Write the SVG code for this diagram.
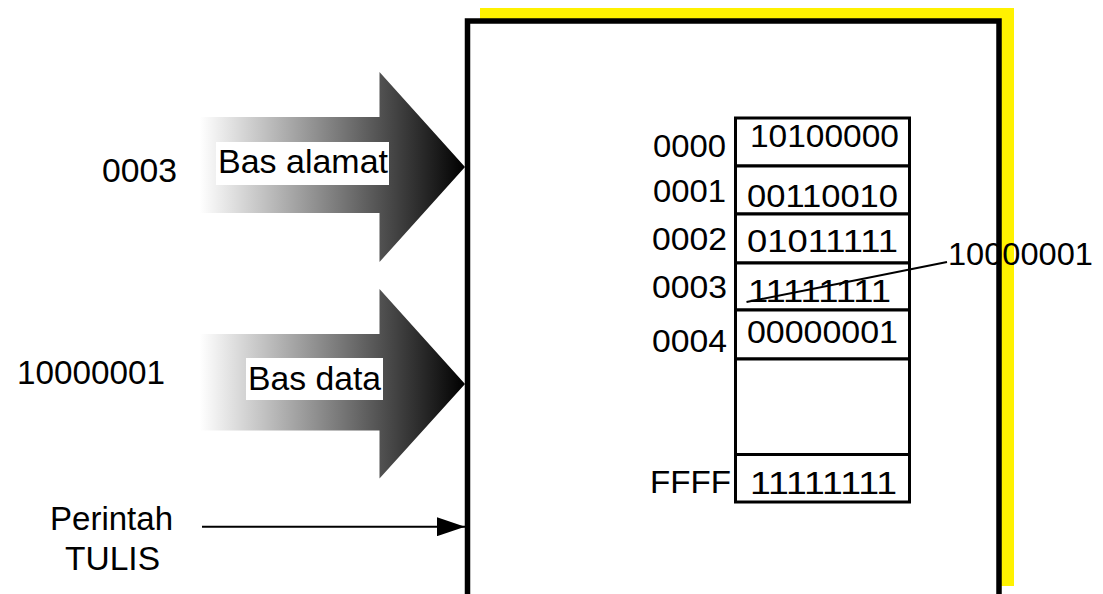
<svg xmlns="http://www.w3.org/2000/svg" width="1103" height="594" viewBox="0 0 1103 594">
<style>
  .t { font-family: "Liberation Sans", Arial, sans-serif; fill: #000; }
  .big { font-size: 34px; }
  .mem { font-size: 31px; }
  .cell { fill: #fff; stroke: #000; stroke-width: 3; }
  .conn { stroke: #000; stroke-width: 2; fill: none; }
</style>
<defs>
  <linearGradient id="shade" gradientUnits="userSpaceOnUse" x1="200" y1="0" x2="465" y2="0">
    <stop offset="0" stop-color="#ffffff"/>
    <stop offset="1" stop-color="#000000"/>
  </linearGradient>
  <marker id="ah" markerWidth="28" markerHeight="19" refX="28" refY="9.5" orient="auto" markerUnits="userSpaceOnUse" viewBox="0 0 28 19">
    <path d="M0,0 L28,9.5 L0,19 Z" fill="#000"/>
  </marker>
</defs>
<rect width="1103" height="594" fill="#fff"/>

<g id="memory-chip">
  <rect x="480" y="8" width="534" height="578" fill="#fff200"/>
  <rect x="467.5" y="21" width="531.5" height="600" fill="#fff" stroke="#000" stroke-width="5.5"/>
</g>

<g id="arrow-address">
  <path d="M200,117 L379.5,117 L379.5,72 L465,167 L379.5,262 L379.5,213 L200,213 Z" fill="url(#shade)"/>
  <rect x="216" y="142" width="173" height="43" fill="#fff"/>
  <text class="t big" x="218" y="173" textLength="170" lengthAdjust="spacingAndGlyphs">Bas alamat</text>
</g>

<g id="arrow-data">
  <path d="M200,334 L379.5,334 L379.5,289 L465,384 L379.5,478.5 L379.5,430.5 L200,430.5 Z" fill="url(#shade)"/>
  <rect x="246" y="358" width="137" height="42" fill="#fff"/>
  <text class="t big" x="248" y="390" textLength="133" lengthAdjust="spacingAndGlyphs">Bas data</text>
</g>

<g id="label-address">
  <text class="t big" x="102" y="181.7" textLength="75" lengthAdjust="spacingAndGlyphs">0003</text>
</g>
<g id="label-data">
  <text class="t big" x="17" y="384.3" textLength="148" lengthAdjust="spacingAndGlyphs">10000001</text>
</g>
<g id="label-write">
  <text class="t big" x="50" y="530" textLength="123" lengthAdjust="spacingAndGlyphs">Perintah</text>
  <text class="t big" x="65" y="570" textLength="95" lengthAdjust="spacingAndGlyphs">TULIS</text>
</g>

<g id="memory-table">
  <rect class="cell" x="735.5" y="118" width="174" height="48"/>
  <rect class="cell" x="735.5" y="166" width="174" height="48"/>
  <rect class="cell" x="735.5" y="214" width="174" height="49"/>
  <rect class="cell" x="735.5" y="263" width="174" height="47"/>
  <rect class="cell" x="735.5" y="310" width="174" height="49"/>
  <rect class="cell" x="735.5" y="359" width="174" height="95.5"/>
  <rect class="cell" x="735.5" y="454.5" width="174" height="47.5"/>

  <text class="t mem" x="653" y="157" textLength="73" lengthAdjust="spacingAndGlyphs">0000</text>
  <text class="t mem" x="750" y="147" textLength="149" lengthAdjust="spacingAndGlyphs">10100000</text>
  <text class="t mem" x="653" y="201.7" textLength="73" lengthAdjust="spacingAndGlyphs">0001</text>
  <text class="t mem" x="747" y="206.7" textLength="151" lengthAdjust="spacingAndGlyphs">00110010</text>
  <text class="t mem" x="652" y="250" textLength="75" lengthAdjust="spacingAndGlyphs">0002</text>
  <text class="t mem" x="747" y="251.7" textLength="151" lengthAdjust="spacingAndGlyphs">01011111</text>
  <text class="t mem" x="652" y="298.3" textLength="75" lengthAdjust="spacingAndGlyphs">0003</text>
  <text class="t mem" x="748" y="301.7" textLength="143" lengthAdjust="spacingAndGlyphs">11111111</text>
  <text class="t mem" x="652" y="351.7" textLength="75" lengthAdjust="spacingAndGlyphs">0004</text>
  <text class="t mem" x="747" y="343.3" textLength="151" lengthAdjust="spacingAndGlyphs">00000001</text>
  <text class="t mem" x="650" y="493.3" textLength="81" lengthAdjust="spacingAndGlyphs">FFFF</text>
  <text class="t mem" x="750" y="494" textLength="147" lengthAdjust="spacingAndGlyphs">11111111</text>
</g>

<g id="new-value">
  <text class="t mem" x="948" y="265" textLength="145" lengthAdjust="spacingAndGlyphs">10000001</text>
</g>

<g id="connectors">
  <line class="conn" x1="746.5" y1="302" x2="947" y2="262"/>
  <line class="conn" x1="202" y1="526.7" x2="465" y2="526.7" marker-end="url(#ah)"/>
</g>
</svg>
